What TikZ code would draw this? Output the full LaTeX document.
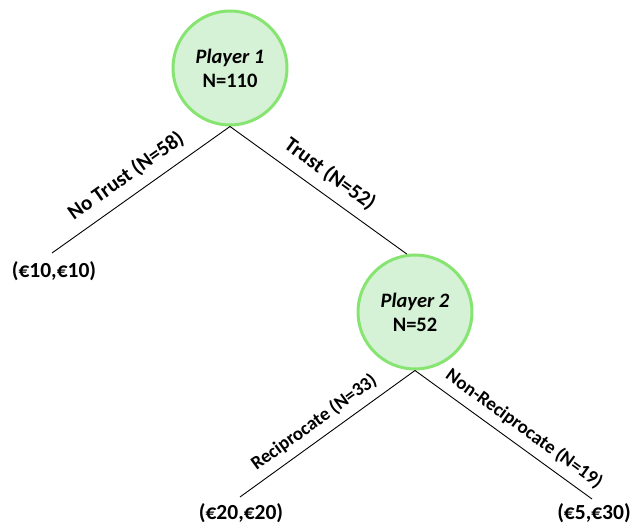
\documentclass[tikz,border=0pt]{standalone}
\usepackage{fontspec}
\setmainfont{Carlito}
\definecolor{nodefill}{RGB}{214,242,214}
\definecolor{nodeline}{RGB}{134,228,112}
\begin{document}
\begin{tikzpicture}[x=1pt,y=-1pt,
  player/.style={circle,draw=nodeline,fill=nodefill,line width=3pt,minimum size=114pt,inner sep=0pt,align=center,font=\fontsize{20.5}{24}\selectfont\bfseries},
  branch/.style={line width=0.9pt,black},
  toplab/.style={sloped,above=8pt,inner sep=2pt,font=\fontsize{21}{23}\selectfont\bfseries},
  lowlab/.style={sloped,above=6pt,inner sep=2pt,font=\fontsize{19}{21}\selectfont\bfseries},
  payoff/.style={inner sep=0pt,font=\fontsize{21.5}{23}\selectfont\bfseries}]
\useasboundingbox (0,0) rectangle (630,526);
\node[player] (p1) at (230,68) {\textit{Player 1}\\N=110};
\node[player] (p2) at (415,312) {\textit{Player 2}\\N=52};
\coordinate (e1) at (52,253);
\coordinate (e2) at (240,497);
\coordinate (e3) at (592,499);
\node[payoff] (o1) at (54,271) {(€10,€10)};
\node[payoff] (o2) at (241,513) {(€20,€20)};
\node[payoff] (o3) at (594,513) {(€5,€30)};
\draw[branch] (p1.south) -- node[toplab,pos=0.52] {No Trust (N=58)} (e1);
\draw[branch] (p1.south) -- node[toplab,pos=0.5] {Trust (N=52)} (p2.98);
\draw[branch] (p2.south) -- node[lowlab,pos=0.52] {Reciprocate (N=33)} (e2);
\draw[branch] (p2.south) -- node[lowlab,pos=0.56] {Non-Reciprocate (N=19)} (e3);
\end{tikzpicture}
\end{document}
